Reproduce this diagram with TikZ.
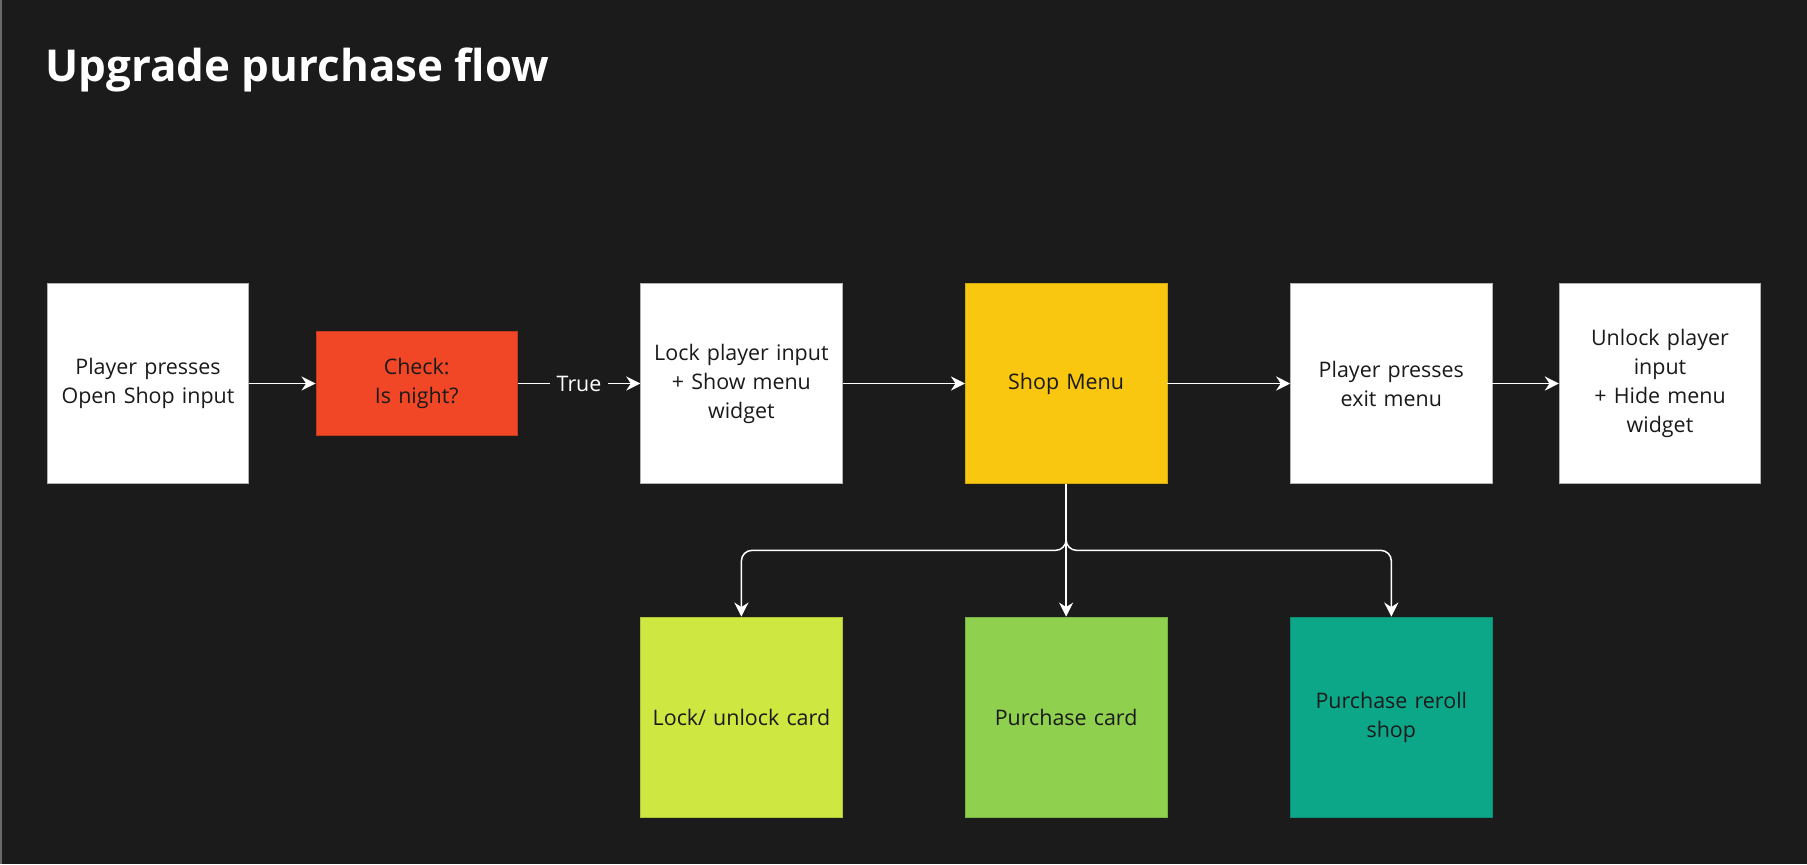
\documentclass[tikz,border=0pt]{standalone}
\usepackage{fontspec}
\setmainfont{Open Sans}
\usetikzlibrary{arrows.meta,positioning,calc}

\definecolor{bgdark}{HTML}{1B1B1B}
\definecolor{bgedge}{HTML}{6A6A6A}
\definecolor{inkdark}{HTML}{1A1A1A}
\definecolor{checkred}{HTML}{F24726}
\definecolor{menuyellow}{HTML}{FAC710}
\definecolor{cardlime}{HTML}{CEE741}
\definecolor{cardgreen}{HTML}{8FD14F}
\definecolor{cardteal}{HTML}{0CA789}

\begin{document}
\begin{tikzpicture}[
    node distance=2.45cm,
    >={Stealth[length=8pt,width=8pt]},
    block/.style={rectangle, draw=black!30, fill=white, text=inkdark, text width=3.8cm, align=center, minimum width=4.03cm, minimum height=4.01cm, inner sep=0pt, font=\fontsize{12.2}{16.5}\selectfont},
    check/.style={block, draw=checkred!80!black, fill=checkred, minimum height=2.07cm},
    menu/.style={block, draw=menuyellow!85!black, fill=menuyellow},
    card/.style={block, draw=#1!85!black, fill=#1},
    title/.style={text=white, inner sep=0pt, font=\fontsize{25}{30}\selectfont\bfseries},
    arrow/.style={->, white, line width=1.1pt},
    branch/.style={->, white, line width=0.85pt, rounded corners=6pt}
]

% Background
\useasboundingbox (0,0) rectangle (36.14,-17.28);
\fill[bgdark] (0,0) rectangle (36.14,-17.28);
\draw[bgedge, line width=1pt] (0.02,0) -- (0.02,-17.28);

% Title
\node[title, anchor=base west] (title) at (0.9,-1.62) {Upgrade purchase flow};

% Top row
\node[block] (press) at (2.96,-7.67) {Player presses\\Open Shop input};
\node[check, right=1.33cm of press] (night) {Check:\\Is night?};
\node[block, right=of night] (lock) {Lock player input\\+ Show menu\\widget};
\node[menu, right=of lock] (shop) {Shop Menu};
\node[block, right=2.46cm of shop] (exit) {Player presses\\exit menu};
\node[block, right=1.33cm of exit] (unlock) {Unlock player\\input\\+ Hide menu\\widget};

% Shop actions
\node[card=cardlime, below=2.65cm of lock] (lockcard) {Lock/ unlock card};
\node[card=cardgreen, below=2.65cm of shop] (buycard) {Purchase card};
\node[card=cardteal, below=2.65cm of exit] (reroll) {Purchase reroll\\shop};

% Arrows
\draw[arrow] (press) -- (night);
\draw[arrow] (night) -- node[fill=bgdark, text=white, inner sep=4pt, font=\fontsize{12.2}{16.5}\selectfont] (truelabel) {True} (lock);
\draw[arrow] (lock) -- (shop);
\draw[arrow] (shop) -- (exit);
\draw[arrow] (exit) -- (unlock);

% Branches
\coordinate (split) at ($(shop.south)!0.5!(buycard.north)$);
\draw[branch] (shop.south) -- (split) -| (lockcard.north);
\draw[branch] (shop.south) -- (buycard.north);
\draw[branch] (shop.south) -- (split) -| (reroll.north);

\end{tikzpicture}
\end{document}
